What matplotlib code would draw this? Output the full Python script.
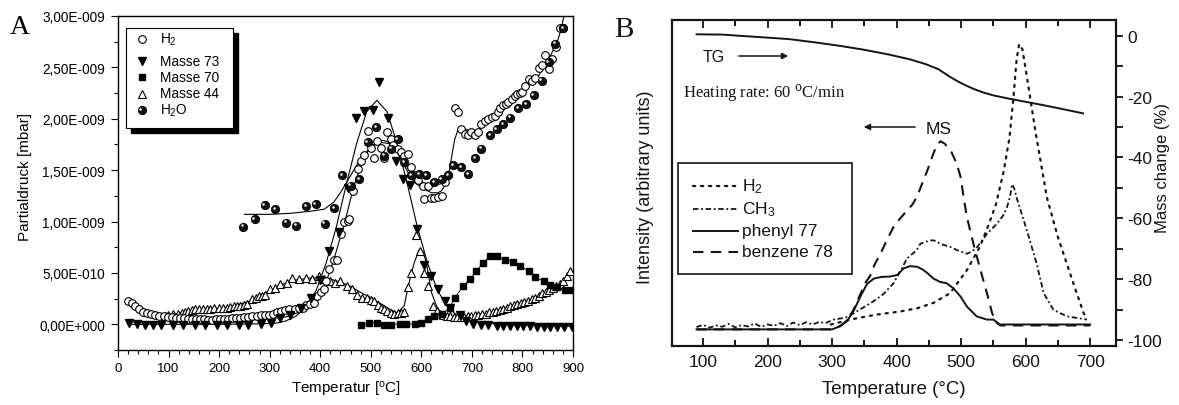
import numpy as np
import matplotlib
matplotlib.use("Agg")
import matplotlib.pyplot as plt
from matplotlib.lines import Line2D
from matplotlib.patches import Rectangle, FancyArrowPatch
from matplotlib.ticker import MultipleLocator, FixedLocator, FuncFormatter
import matplotlib.transforms as mtransforms

plt.rcParams['font.family'] = ['Liberation Sans', 'DejaVu Sans']
plt.rcParams['mathtext.fontset'] = 'custom'
plt.rcParams['mathtext.rm'] = 'Liberation Sans'
plt.rcParams['mathtext.it'] = 'Liberation Sans:italic'
plt.rcParams['mathtext.bf'] = 'Liberation Sans:bold'
plt.rcParams['axes.unicode_minus'] = False

# ---------------- Panel A: partial pressures (units of 1e-9 mbar) ----------------
h2_T = [20, 27, 34, 42, 50, 58, 66, 74, 82, 90, 98, 106, 114, 122, 130, 138, 146, 154, 162,
        170, 178, 186, 194, 202, 210, 218, 226, 234, 242, 250, 258, 266, 274, 282, 290, 298,
        306, 314, 322, 330, 338, 351, 358, 365, 372, 380, 388, 394, 402, 408, 412, 418, 427,
        434, 441, 448, 454, 457, 464, 474, 480, 487, 494, 500, 507, 513, 520, 527, 533, 540,
        543, 553, 560, 566, 573, 580, 586, 593, 603, 606, 613, 620, 626, 633, 640, 646, 653,
        666, 673, 679, 686, 693, 699, 706, 712, 719, 726, 732, 739, 745, 752, 756, 762, 768,
        772, 779, 785, 789, 795, 799, 806, 812, 819, 825, 832, 838, 845, 852, 858, 866, 874, 880]
h2_V = [0.227, 0.205, 0.178, 0.146, 0.124, 0.107, 0.097, 0.09, 0.085, 0.08, 0.075, 0.07, 0.065,
        0.06, 0.058, 0.055, 0.052, 0.05, 0.049, 0.047, 0.046, 0.046, 0.048, 0.05, 0.052, 0.055,
        0.058, 0.062, 0.066, 0.07, 0.075, 0.08, 0.085, 0.088, 0.092, 0.095, 0.105, 0.12, 0.13,
        0.14, 0.15, 0.146, 0.16, 0.16, 0.19, 0.2, 0.21, 0.28, 0.31, 0.34, 0.42, 0.54, 0.63,
        0.63, 0.88, 1.0, 1.01, 1.02, 1.30, 1.51, 1.59, 1.65, 1.88, 1.72, 1.62, 1.78, 1.72,
        1.62, 1.87, 1.80, 1.74, 1.71, 1.68, 1.64, 1.66, 1.53, 1.45, 1.40, 1.35, 1.22, 1.35,
        1.23, 1.23, 1.24, 1.25, 1.38, 1.45, 2.10, 2.07, 1.90, 1.85, 1.84, 1.87, 1.84, 1.87,
        1.95, 1.98, 2.00, 2.02, 2.03, 2.07, 2.10, 2.13, 2.14, 2.16, 2.19, 2.22, 2.24, 2.25,
        2.26, 2.32, 2.39, 2.37, 2.40, 2.49, 2.52, 2.62, 2.48, 2.58, 2.70, 2.88, 2.88]

h2_fit_T = [100, 150, 200, 250, 290, 320, 341, 360, 381, 395, 408, 418, 427, 437, 447, 457, 467,
            476, 484, 494, 504, 514, 524, 532, 540, 553, 562, 570, 578, 587, 595, 603, 612, 620,
            633, 640, 646, 651, 656, 661, 666, 673, 679, 692, 706, 722, 739, 755, 772, 788, 805,
            818, 832, 842, 852, 862, 871, 877, 882]
h2_fit_V = [0.04, 0.035, 0.035, 0.04, 0.05, 0.065, 0.08, 0.13, 0.21, 0.29, 0.37, 0.50, 0.63,
            0.80, 0.96, 1.16, 1.35, 1.48, 1.58, 1.68, 1.74, 1.78, 1.79, 1.78, 1.75, 1.67, 1.59,
            1.51, 1.44, 1.38, 1.35, 1.32, 1.30, 1.28, 1.28, 1.30, 1.35, 1.42, 1.51, 1.66, 1.80,
            1.90, 1.92, 1.89, 1.87, 1.93, 2.00, 2.06, 2.13, 2.21, 2.29, 2.35, 2.42, 2.50, 2.58,
            2.68, 2.78, 2.88, 3.00]

m73_T = [22, 37, 53, 70, 86, 109, 129, 152, 172, 196, 215, 239, 258, 282, 302, 321, 341, 361,
         381, 400, 418, 437, 454, 471, 487, 504, 517, 534, 550, 563, 577, 592, 606, 620, 633,
         646, 656, 676, 689, 702, 719, 732, 749, 762, 775, 789, 802, 815, 828, 842, 855, 868,
         882, 898]
m73_V = [0.01, 0.0, -0.005, -0.005, -0.005, -0.005, -0.005, -0.005, -0.005, -0.005, -0.005,
         -0.005, -0.005, 0.0, 0.01, 0.06, 0.09, 0.16, 0.26, 0.43, 0.71, 0.90, 1.33, 2.01, 2.08,
         2.09, 2.36, 2.01, 1.59, 1.41, 1.36, 0.93, 0.58, 0.47, 0.34, 0.23, 0.16, 0.09, 0.03,
         0.0, -0.01, -0.01, -0.015, -0.015, -0.02, -0.02, -0.02, -0.02, -0.025, -0.025, -0.025,
         -0.03, -0.03, -0.03]
m73_fit_T = [20, 100, 200, 280, 312, 332, 352, 372, 392, 412, 432, 452, 472, 492, 512, 532, 552,
             572, 592, 612, 632, 652, 672, 692, 712, 760, 820, 900]
m73_fit_V = [0.0, 0.0, 0.0, 0.005, 0.011, 0.032, 0.079, 0.17, 0.33, 0.60, 0.95, 1.37, 1.76,
             2.07, 2.18, 2.07, 1.76, 1.37, 0.95, 0.60, 0.33, 0.17, 0.08, 0.04, 0.02, 0.0,
             -0.01, -0.02]

m70_T = [480, 497, 512, 527, 540, 557, 570, 587, 600, 613, 626, 640, 656, 666, 683, 696, 709,
         722, 736, 749, 765, 782, 795, 812, 825, 842, 855, 868, 884, 898]
m70_V = [-0.01, 0.01, 0.016, -0.005, -0.005, 0.006, 0.006, 0.0, 0.016, 0.049, 0.078, 0.097,
         0.16, 0.26, 0.37, 0.44, 0.52, 0.60, 0.66, 0.66, 0.63, 0.61, 0.57, 0.52, 0.46, 0.42,
         0.38, 0.36, 0.33, 0.33]

m44_T = [92, 99, 109, 118, 126, 132, 139, 146, 152, 161, 169, 176, 182, 190, 199, 207, 215,
         222, 229, 236, 242, 249, 255, 265, 272, 278, 285, 291, 301, 311, 321, 334, 344, 358,
         371, 384, 397, 407, 420, 430, 440, 453, 463, 473, 483, 493, 500, 507, 514, 520, 527,
         533, 540, 546, 553, 560, 566, 573, 580, 590, 598, 606, 613, 623, 630, 636, 643, 650,
         657, 664, 671, 678, 685, 692, 699, 706, 713, 720, 727, 734, 741, 748, 755, 762, 769,
         776, 783, 790, 797, 804, 811, 818, 825, 832, 839, 846, 853, 860, 867, 874, 881, 888, 895]
m44_V = [0.085, 0.087, 0.097, 0.10, 0.114, 0.12, 0.13, 0.14, 0.146, 0.146, 0.146, 0.15, 0.153,
         0.155, 0.16, 0.16, 0.16, 0.17, 0.18, 0.18, 0.18, 0.19, 0.195, 0.244, 0.26, 0.276, 0.28,
         0.29, 0.34, 0.357, 0.39, 0.406, 0.455, 0.44, 0.455, 0.445, 0.47, 0.44, 0.42, 0.40,
         0.42, 0.37, 0.34, 0.29, 0.26, 0.26, 0.24, 0.227, 0.19, 0.16, 0.15, 0.13, 0.11, 0.097,
         0.11, 0.114, 0.12, 0.36, 0.50, 0.87, 0.71, 0.50, 0.37, 0.18, 0.13, 0.10, 0.09, 0.085,
         0.08, 0.075, 0.075, 0.075, 0.075, 0.08, 0.085, 0.09, 0.095, 0.10, 0.105, 0.115, 0.12,
         0.13, 0.14, 0.15, 0.16, 0.175, 0.19, 0.20, 0.21, 0.22, 0.23, 0.245, 0.26, 0.28, 0.30,
         0.31, 0.33, 0.35, 0.37, 0.39, 0.42, 0.47, 0.52]
m44_fit_T = [90, 130, 160, 200, 230, 260, 290, 320, 350, 380, 400, 420, 440, 460, 480, 500, 520,
             540, 553, 566, 576, 586, 596, 603, 610, 620, 630, 640, 660, 686, 719, 752, 785, 818,
             852, 878, 898]
m44_fit_V = [0.085, 0.11, 0.13, 0.155, 0.18, 0.225, 0.30, 0.38, 0.43, 0.45, 0.455, 0.44, 0.41,
             0.37, 0.31, 0.26, 0.20, 0.14, 0.11, 0.18, 0.41, 0.60, 0.73, 0.71, 0.60, 0.31, 0.18,
             0.10, 0.08, 0.075, 0.097, 0.13, 0.195, 0.244, 0.325, 0.39, 0.52]

h2o_T = [248, 270, 290, 311, 333, 353, 372, 391, 409, 427, 444, 460, 477, 494, 510, 527, 540,
         553, 566, 580, 596, 610, 626, 640, 653, 663, 679, 693, 706, 719, 736, 749, 762, 775,
         792, 808, 822, 838, 852, 865, 881]
h2o_V = [0.95, 1.02, 1.16, 1.12, 0.99, 0.96, 1.15, 1.17, 0.98, 1.13, 1.45, 1.35, 1.41, 1.77,
         1.92, 1.64, 1.71, 1.80, 1.58, 1.45, 1.46, 1.45, 1.38, 1.41, 1.45, 1.55, 1.53, 1.46,
         1.62, 1.71, 1.84, 1.90, 1.95, 2.01, 2.10, 2.14, 2.23, 2.37, 2.55, 2.73, 2.88]
h2o_fit_T = [250, 300, 341, 380, 408, 427, 440, 452, 464, 476, 490, 504, 520, 535, 550, 565, 580,
             595, 610, 625, 640, 650]
h2o_fit_V = [1.07, 1.07, 1.08, 1.10, 1.12, 1.19, 1.28, 1.38, 1.48, 1.58, 1.67, 1.74, 1.77, 1.76,
             1.70, 1.58, 1.47, 1.40, 1.36, 1.35, 1.37, 1.42]

pressure_ticks = [0.0, 0.5, 1.0, 1.5, 2.0, 2.5, 3.0]
legend_a_labels = ['H$_2$', 'Masse 73', 'Masse 70', 'Masse 44', 'H$_2$O']

# ---------------- Panel B: TG / MS ----------------
tg_T = [90, 130, 157, 200, 234, 275, 312, 350, 389, 420, 445, 465, 482, 495, 508, 521, 534, 550,
        575, 600, 625, 653, 689]
tg_M = [0.5, 0.4, 0.0, -0.6, -1.1, -2.2, -3.3, -4.6, -6.2, -7.7, -9.3, -11.0, -13.4, -15.0,
        -16.4, -17.6, -18.6, -19.6, -20.7, -21.7, -22.7, -23.9, -25.5]

ms_h2_T = [298, 333, 368, 406, 432, 457, 483, 509, 529, 543, 554, 566, 575, 581, 586, 590, 595,
           604, 615, 633, 650, 666, 676, 690, 695]
ms_h2_I = [6.6, 8.3, 9.6, 10.6, 11.6, 13.2, 16.2, 23.3, 30.4, 37.4, 43.5, 53.6, 64, 76, 88,
           92.6, 91, 80, 66, 45.5, 33.4, 24, 18, 10, 8.6]

ms_ch3_T = [90, 100, 110, 120, 130, 140, 150, 160, 170, 180, 190, 200, 210, 220, 230, 240, 250,
            260, 270, 280, 290, 302, 315, 325, 338, 350, 364, 380, 395, 406, 416, 431, 437, 452,
            458, 470, 483, 495, 509, 517, 525, 540, 555, 565, 571, 576, 579, 582, 586, 602, 617,
            628, 643, 664, 695]
ms_ch3_I = [5.8, 6.5, 5.6, 6.3, 5.9, 6.8, 5.7, 6.4, 6.0, 6.9, 5.9, 6.6, 6.2, 7.0, 6.1, 7.2, 6.4,
            7.3, 6.6, 7.4, 7.0, 8.1, 8.5, 9.0, 10.6, 12.0, 13.7, 16.0, 19.2, 23.0, 26.8, 29.4,
            31.4, 32.4, 32.4, 31.2, 30.4, 29.3, 28.3, 29.0, 30.4, 34.4, 37.4, 40.0, 42.5, 46.0,
            49.6, 48.5, 45.5, 35.4, 25.3, 16.2, 11.1, 9.1, 8.1]

ms_ph_T = [90, 300, 313, 323, 333, 344, 354, 365, 377, 390, 401, 411, 421, 432, 440, 447, 457,
           467, 478, 488, 499, 509, 524, 540, 550, 556, 560, 700]
ms_ph_I = [5.1, 5.1, 6.1, 7.6, 10.6, 15.2, 19.0, 20.7, 21.2, 21.3, 21.8, 23.8, 24.5, 24.3, 23.5,
           22.5, 20.7, 19.7, 19.2, 17.7, 15.2, 12.1, 9.1, 8.1, 8.1, 7.2, 6.6, 6.6]

ms_bz_T = [90, 300, 313, 323, 333, 343, 352, 359, 366, 375, 385, 395, 405, 416, 425, 432, 440,
           448, 456, 462, 468, 475, 485, 493, 499, 504, 509, 519, 530, 540, 548, 555, 561, 700]
ms_bz_I = [5.1, 5.1, 6.2, 7.8, 11.0, 15.5, 19.5, 21.5, 25.0, 28.3, 32.5, 36.4, 39.0, 41.5, 43.5,
           46.0, 50.0, 54.0, 58.5, 61.5, 62.8, 62.0, 59.5, 56.0, 52.0, 45.5, 39.5, 31.4, 23.3,
           16.2, 10.1, 7.1, 6.3, 6.3]

temp_ticks_b = [100, 200, 300, 400, 500, 600, 700]
mass_ticks = [0, -20, -40, -60, -80, -100]
legend_b_labels = ['H$_2$', 'CH$_3$', 'phenyl 77', 'benzene 78']

W, H = 1179, 406
fig = plt.figure(figsize=(W / 100, H / 100), dpi=100)
fig.patch.set_facecolor('white')


def fx(x):
    return x / W


def fy(y):
    return 1 - y / H


def nano(v):
    return np.asarray(v) * 1e-9


# ================= Panel A =================
axA = fig.add_axes([fx(118), fy(351), (573 - 118) / W, (351 - 17) / H])
axA.set_xlim(0, 900)
axA.set_ylim(-0.25e-9, 3.0e-9)

line_kw = dict(color='black', lw=0.8, zorder=2)
axA.plot(m44_fit_T, nano(m44_fit_V), **line_kw)
axA.plot(m73_fit_T, nano(m73_fit_V), **line_kw)
axA.plot(h2_fit_T, nano(h2_fit_V), **line_kw)
axA.plot(h2o_fit_T, nano(h2o_fit_V), **line_kw)
axA.plot(m70_T, nano(m70_V), color='black', lw=0.6, zorder=2)

axA.plot(m44_T, nano(m44_V), ls='none', marker='^', ms=6, mfc='white', mec='black',
         mew=0.8, zorder=3)
axA.plot(h2_T, nano(h2_V), ls='none', marker='o', ms=5.5, mfc='white', mec='black',
         mew=0.8, zorder=4)
axA.plot(m70_T, nano(m70_V), ls='none', marker='s', ms=4.8, mfc='black', mec='black',
         zorder=4)
axA.plot(m73_T, nano(m73_V), ls='none', marker='v', ms=6.2, mfc='black', mec='black',
         zorder=5)
axA.plot(h2o_T, nano(h2o_V), ls='none', marker='o', ms=6, mfc='#111111', mec='black',
         mew=0.6, zorder=6)
hl = mtransforms.offset_copy(axA.transData, fig=fig, x=-1.3, y=1.3, units='dots')
axA.plot(h2o_T, nano(h2o_V), ls='none', marker='o', ms=1.8, mfc='white', mec='none',
         transform=hl, zorder=7)


def sci_comma(v, pos):
    if abs(v) < 1e-15:
        return '0,00E+000'
    e = int(np.floor(np.log10(abs(v)) + 1e-9))
    m = v / 10 ** e
    return f'{m:.2f}'.replace('.', ',') + f'E{e:+04d}'


axA.xaxis.set_major_locator(MultipleLocator(100))
axA.xaxis.set_minor_locator(MultipleLocator(20))
axA.yaxis.set_major_locator(FixedLocator(nano(pressure_ticks)))
axA.yaxis.set_minor_locator(FixedLocator(nano([-0.25, 0.25, 0.75, 1.25, 1.75, 2.25, 2.75])))
axA.yaxis.set_major_formatter(FuncFormatter(sci_comma))
axA.yaxis.get_offset_text().set_visible(False)
axA.tick_params(axis='both', which='major', direction='out', length=5, width=0.8,
                top=False, right=False)
axA.tick_params(axis='both', which='minor', direction='out', length=3, width=0.8,
                top=False, right=False)
axA.tick_params(axis='x', which='major', pad=4, labelsize=9.5)
axA.tick_params(axis='y', which='major', pad=4.5, labelsize=9.8)
for s in axA.spines.values():
    s.set_linewidth(1.0)
axA.set_xlabel('Temperatur [$^{\\mathrm{o}}$C]', fontsize=11)
axA.xaxis.label.set_va('center')
axA.xaxis.set_label_coords(0.5, -(390 - 351) / 334)
axA.set_ylabel('Partialdruck [mbar]', fontsize=11)
axA.yaxis.label.set_va('center')
axA.yaxis.set_label_coords((25 - 118) / 455, 0.52)

# legend A with drop shadow
fig.add_artist(Rectangle((fx(130.5), fy(133.5)), (233 - 126) / W, (129 - 29) / H,
                         transform=fig.transFigure, facecolor='black', edgecolor='black',
                         zorder=10))
fig.add_artist(Rectangle((fx(126), fy(129)), (233 - 126) / W, (129 - 29) / H,
                         transform=fig.transFigure, facecolor='white', edgecolor='black',
                         lw=0.8, zorder=11))
leg_rows = [40, 61.5, 78, 94.5, 111]
leg_markers = [dict(marker='o', ms=5.5, mfc='white', mec='black', mew=0.8),
               dict(marker='v', ms=6.2, mfc='black', mec='black'),
               dict(marker='s', ms=4.8, mfc='black', mec='black'),
               dict(marker='^', ms=6, mfc='white', mec='black', mew=0.8),
               dict(marker='o', ms=6, mfc='#111111', mec='black', mew=0.6)]
for yy, lab, mk in zip(leg_rows, legend_a_labels, leg_markers):
    fig.add_artist(Line2D([fx(141.5)], [fy(yy)], transform=fig.transFigure, ls='none',
                          zorder=12, **mk))
    fig.text(fx(160), fy(yy), lab, fontsize=9.8, va='center', ha='left', zorder=12)
fig.add_artist(Line2D([fx(140.3)], [fy(109.8)], transform=fig.transFigure, ls='none',
                      marker='o', ms=1.8, mfc='white', mec='none', zorder=13))

fig.text(fx(20), fy(27), 'A', fontsize=20, family=['Liberation Serif', 'DejaVu Serif'],
         ha='center', va='center')

# ================= Panel B =================
axB = fig.add_axes([fx(672), fy(347), (1116 - 672) / W, (347 - 21) / H])
axB.set_xlim(52, 740)
axB.set_ylim(0, 100)
axB2 = axB.twinx()
axB2.set_ylim(-102, 5.2)

ink = '#141414'
axB.plot(ms_h2_T, ms_h2_I, color=ink, lw=1.6, ls=(0, (1, 2.6)), dash_capstyle='round')
axB.plot(ms_ch3_T, ms_ch3_I, color=ink, lw=1.3, ls=(0, (3, 1.5, 1, 1.5)))
axB.plot(ms_ph_T, ms_ph_I, color=ink, lw=1.4)
axB.plot(ms_bz_T, ms_bz_I, color=ink, lw=1.5, ls=(0, (5, 3.5)))
axB2.plot(tg_T, tg_M, color=ink, lw=1.4)

axB.set_yticks([])
axB.xaxis.set_major_locator(FixedLocator(temp_ticks_b))
axB.xaxis.set_minor_locator(MultipleLocator(50))
axB.tick_params(axis='x', which='major', direction='in', length=6, width=1.3, top=True,
                labelsize=12.5, pad=6, colors=ink)
axB.tick_params(axis='x', which='minor', direction='in', length=4, width=1.3, top=True)
axB2.yaxis.set_major_locator(FixedLocator(mass_ticks))
axB2.yaxis.set_minor_locator(MultipleLocator(10))
axB2.tick_params(axis='y', which='both', direction='out', length=5, width=1.3,
                 labelsize=12.5, pad=3, colors=ink)
for a in (axB, axB2):
    for s in a.spines.values():
        s.set_linewidth(1.5)
        s.set_color(ink)
axB.set_xlabel('Temperature (°C)', fontsize=13.5, color=ink)
axB.xaxis.label.set_va('center')
axB.xaxis.set_label_coords(0.5, -(390 - 347) / 326)
axB.set_ylabel('Intensity (arbitrary units)', fontsize=13, color=ink)
axB.yaxis.label.set_va('center')
axB.yaxis.set_label_coords((645 - 672) / 444, 0.49)
axB2.set_ylabel('Mass change (%)', fontsize=12, color=ink, rotation=90)
axB2.yaxis.label.set_va('center')
axB2.yaxis.set_label_coords((1163 - 672) / 444, 0.55)

# legend B
fig.add_artist(Rectangle((fx(678), fy(275)), (852 - 678) / W, (275 - 164) / H,
                         transform=fig.transFigure, facecolor='none', edgecolor=ink, lw=1.2))
leg_b_rows = [187, 209.5, 231.5, 253]
leg_b_styles = [dict(lw=1.6, ls=(0, (1, 2.6)), dash_capstyle='round'),
                dict(lw=1.3, ls=(0, (3, 1.5, 1, 1.5))),
                dict(lw=1.4, ls='-'),
                dict(lw=1.5, ls=(0, (5, 3.5)))]
for yy, lab, st in zip(leg_b_rows, legend_b_labels, leg_b_styles):
    fig.add_artist(Line2D([fx(693), fx(738)], [fy(yy), fy(yy)], transform=fig.transFigure,
                          color=ink, **st))
    fig.text(fx(742), fy(yy), lab, fontsize=12.5, va='center', ha='left', color=ink)

# annotations
fig.text(fx(703), fy(58), 'TG', fontsize=11.5, va='center', ha='left', color=ink)
fig.add_artist(FancyArrowPatch((fx(736), fy(57)), (fx(791), fy(57)),
                               transform=fig.transFigure, arrowstyle='-|>',
                               mutation_scale=9, lw=1.1, color=ink))
fig.text(fx(683), fy(93), 'Heating rate: 60 $^{\\mathrm{o}}$C/min', fontsize=12,
         family=['Liberation Serif', 'DejaVu Serif'], va='center', ha='left', color=ink,
         math_fontfamily='dejavuserif')
fig.add_artist(FancyArrowPatch((fx(918), fy(128)), (fx(861), fy(128)),
                               transform=fig.transFigure, arrowstyle='-|>',
                               mutation_scale=9, lw=1.1, color=ink))
fig.text(fx(926), fy(129), 'MS', fontsize=12.5, va='center', ha='left', color=ink)

fig.text(fx(624), fy(30), 'B', fontsize=21, family=['Liberation Serif', 'DejaVu Serif'],
         ha='center', va='center', color=ink)

fig.savefig('out.png', dpi=100, facecolor='white')
